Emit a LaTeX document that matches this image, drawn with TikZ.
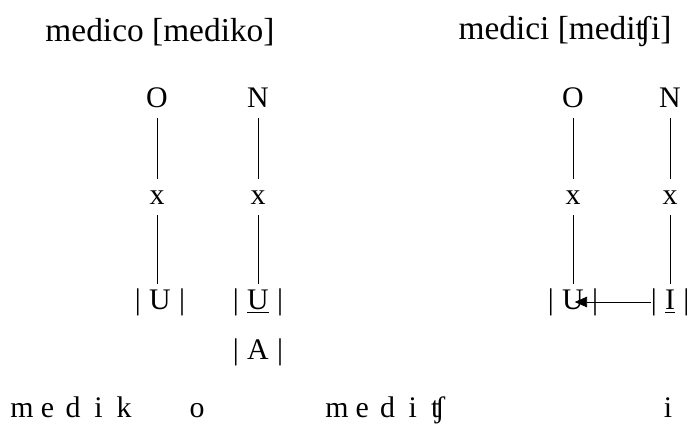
\documentclass[tikz,border=0pt]{standalone}
\usepackage{fontspec}
\setmainfont{Liberation Serif}
\usetikzlibrary{arrows.meta}
\tikzset{
  seg/.style={font=\fontsize{17}{20}\selectfont, text height=12.5pt, text depth=3.5pt, inner sep=2pt},
  ttl/.style={font=\fontsize{19}{22}\selectfont},
}
\begin{document}
\begin{tikzpicture}
\useasboundingbox (0,0) rectangle (13.78,8.66);
% medico
\begin{scope}[shift={(3.14,0)}]
	\node[ttl] (t1) at (0.06,8.02) {medico [mediko]};
	\node[seg] (o1) at (0,6.66) {O};
	\node[seg] (n1) at (2.02,6.66) {N};
	\node[seg] (xo1) at (0,4.72) {x};
	\node[seg] (xn1) at (2.02,4.72) {x};
	\node[seg] (u1) at (0.06,2.62) {|\;U\;|};
	\node[seg] (v1) at (2.02,2.62) {|\;\underline{U}\;|};
	\node[seg] (a1) at (2.02,1.62) {|\;A\;|};
	\draw (o1) -- (xo1) -- (u1.north-|xo1);
	\draw (n1) -- (xn1) -- (v1);
\end{scope}
% medici
\begin{scope}[shift={(11.46,0)}]
	\node[ttl] (t2) at (-0.16,8.02) {medici [mediʧi]};
	\node[seg] (o2) at (0,6.66) {O};
	\node[seg] (n2) at (1.94,6.66) {N};
	\node[seg] (xo2) at (0,4.72) {x};
	\node[seg] (xn2) at (1.94,4.72) {x};
	\node[seg] (u2) at (0,2.62) {|\;U\;|};
	\node[seg] (i2) at (1.94,2.62) {|\;\underline{I}\;|};
	\draw (o2) -- (xo2) -- (u2);
	\draw (n2) -- (xn2) -- (i2);
	\draw [-{Triangle[length=7pt,width=6pt]}] ([xshift=2.5pt]i2.west) -- ([xshift=1pt]u2.center);
\end{scope}
% segments
\foreach \l [count=\i] in {m,e,d,i,k}
	\node[seg] (sl\i) at ({0.44+0.51*(\i-1)},0.46) {\l};
\node[seg] (sl6) at (3.94,0.46) {o};
\foreach \l [count=\i] in {m,e,d,i,ʧ}
	\node[seg] (sr\i) at ({6.74+0.505*(\i-1)},0.46) {\l};
\node[seg] (sr6) at (13.36,0.46) {i};
\end{tikzpicture}
\end{document}
